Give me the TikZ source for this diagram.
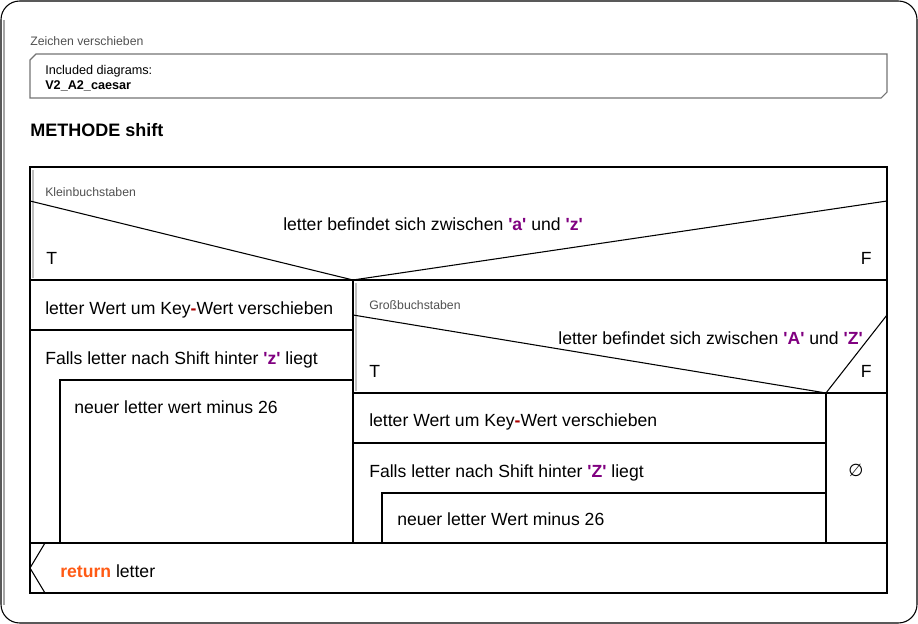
\documentclass[tikz,border=0pt]{standalone}
\usepackage{fontspec}
\setmainfont{Liberation Sans}
\newfontfamily\symfont{DejaVu Sans}
\definecolor{chpurple}{RGB}{128,0,128}
\definecolor{opred}{RGB}{170,0,0}
\definecolor{kworange}{RGB}{255,90,20}
\definecolor{notegray}{RGB}{80,80,80}
\tikzset{
  stmt/.style={anchor=base west, inner sep=0pt, font=\fontsize{13.2}{15}\selectfont},
  note/.style={anchor=base west, inner sep=0pt, text=notegray, font=\fontsize{9.2}{11}\selectfont},
  frame/.style={draw=black, line width=0.8pt},
  bar/.style={draw=black!25, line width=1.8pt},
}
\newcommand{\ch}[1]{\textcolor{chpurple}{\textbf{\textquotesingle#1\textquotesingle}}}
\newcommand{\op}{\textcolor{opred}{\textbf{-}}}

\begin{document}
\begin{tikzpicture}[x=0.75pt,y=-0.75pt]
\useasboundingbox (0,0) rectangle (918,624);
% outer frame
\draw[black, line width=0.8pt, rounded corners=14] (1,1) rectangle (917,623);
\draw[black!35, line width=0.8pt] (4,20) -- (4,605);

% header
\node[note] (diagname) at (30,46) {Zeichen verschieben};
\draw[black!55, line width=0.8pt] (36,54) -- (887,54) -- (887,92) -- (881,98) -- (30,98) -- (30,60) -- cycle;
\node[note, text=black, font=\fontsize{9.5}{11}\selectfont] (incl) at (45,75) {Included diagrams:};
\node[note, text=black, font=\fontsize{9.5}{11}\selectfont\bfseries] (inclname) at (45,90) {V2\_A2\_caesar};
\node[stmt, font=\fontsize{13.5}{15}\selectfont\bfseries] (method) at (30,137) {METHODE shift};

% structogram blocks
\draw[frame] (30,167) rectangle (887,593);
\draw[bar] (33,170) -- (33,278);
\draw[frame] (30,201) -- (353,280) -- (887,201);
\draw[frame] (30,280) -- (887,280);
\draw[frame] (353,280) -- (353,543);
\draw[frame] (30,330) -- (353,330);
\draw[frame] (60,543) -- (60,380) -- (353,380);
% inner decision
\draw[bar] (356,283) -- (356,391);
\draw[frame] (353,315) -- (826,393) -- (887,315);
\draw[frame] (353,393) -- (887,393);
\draw[frame] (826,393) -- (826,543);
\draw[frame] (353,443) -- (826,443);
\draw[frame] (382,543) -- (382,493) -- (826,493);
\draw[frame] (30,543) -- (887,543);
\draw[frame] (45,543) -- (30,568) -- (45,593);

% texts
\node[note] (klein) at (45,197) {Kleinbuchstaben};
\node[stmt, anchor=base] (cond1) at (433,231) {letter befindet sich zwischen \ch{a} und \ch{z}};
\node[stmt] (t1) at (46,264) {T};
\node[stmt, anchor=base east] (f1) at (872,264) {F};
\node[stmt] (shift1) at (45,314) {letter Wert um Key\op Wert verschieben};
\node[stmt] (if1) at (45,364) {Falls letter nach Shift hinter \ch{z} liegt};
\node[stmt] (sub1) at (74,413) {neuer letter wert minus 26};

\node[note] (gross) at (369,310) {Großbuchstaben};
\node[stmt, anchor=base east] (cond2) at (863,344) {letter befindet sich zwischen \ch{A} und \ch{Z}};
\node[stmt] (t2) at (369,377) {T};
\node[stmt, anchor=base east] (f2) at (872,377) {F};
\node[stmt] (shift2) at (369,426) {letter Wert um Key\op Wert verschieben};
\node[stmt] (if2) at (369,477) {Falls letter nach Shift hinter \ch{Z} liegt};
\node[stmt] (sub2) at (397,525) {neuer letter Wert minus 26};
\node[inner sep=0pt, font=\symfont\fontsize{13}{14}\selectfont] (empty) at (856,470) {∅};

\node[stmt] (ret) at (60,577) {\textcolor{kworange}{\textbf{return}} letter};
\end{tikzpicture}
\end{document}
